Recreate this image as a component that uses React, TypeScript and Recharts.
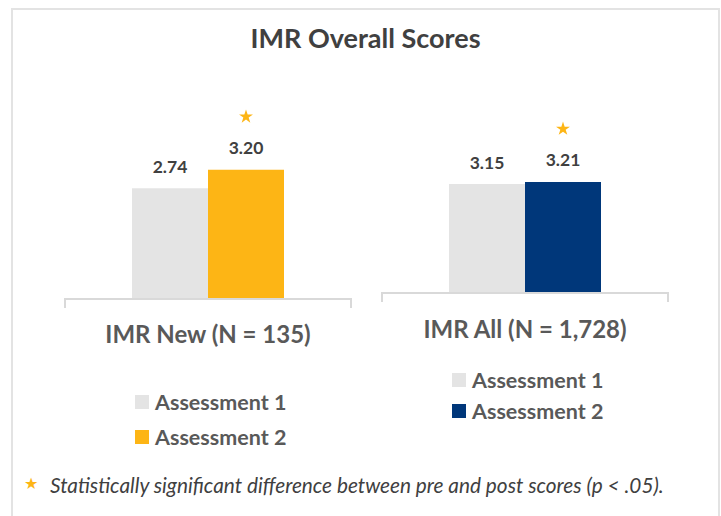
import React from 'react';
import { BarChart, Bar, XAxis, YAxis, Cell, LabelList, Symbols } from 'recharts';

const title = 'IMR Overall Scores';
const categories = ['IMR New (N = 135)', 'IMR All (N = 1,728)'];
const seriesNames = ['Assessment 1', 'Assessment 2'];
const assessment1 = [2.74, 3.15];
const assessment2 = [3.2, 3.21];
const significant = [true, true];
const footnote = 'Statistically significant difference between pre and post scores (p < .05).';

const assessment1Color = '#E4E4E4';
const assessment2Colors = ['#FDB515', '#00377A'];
const starColor = '#FDB515';
const FONT = 'Lato, "Open Sans", sans-serif';

const panels = [
  {
    left: 40, top: 80, width: 340, height: 280,
    margin: { top: 17, right: 29, left: 25, bottom: 11 },
    xHeight: 50, labelDy: 34,
    legendLeft: 135, legendTop: 389, legendGap: 35,
  },
  {
    left: 360, top: 80, width: 340, height: 280,
    margin: { top: 40, right: 32, left: 22, bottom: 11 },
    xHeight: 56, labelDy: 35,
    legendLeft: 452, legendTop: 367, legendGap: 31,
  },
];

function makeTick(fallbackHalf: number, labelDy: number) {
  return (props: any) => {
    const { x, y, payload } = props;
    const off = payload && typeof payload.offset === 'number' && payload.offset > 0 ? payload.offset : fallbackHalf;
    return (
      <g>
        <line x1={x - off} y1={y - 1} x2={x - off} y2={y + 9} stroke="#D9D9D9" strokeWidth={2} />
        <line x1={x + off} y1={y - 1} x2={x + off} y2={y + 9} stroke="#D9D9D9" strokeWidth={2} />
        <text x={x} y={y + labelDy} textAnchor="middle" dominantBaseline="central"
          fontFamily={FONT} fontWeight={700} fontSize={24} fill="#595959">
          {payload.value}
        </text>
      </g>
    );
  };
}

const valueLabel = (props: any) => {
  const { x, y, width, value } = props;
  return (
    <text x={x + width / 2} y={y - 22} textAnchor="middle" dominantBaseline="central"
      fontFamily={FONT} fontWeight={700} fontSize={17.5} fill="#404040">
      {Number(value).toFixed(2)}
    </text>
  );
};

function makeStarLabel(sig: boolean) {
  return (props: any) => {
    const { x, y, width } = props;
    if (!sig) return null;
    return <Symbols cx={x + width / 2} cy={y - 53} type="star" size={60} fill={starColor} />;
  };
}

function Panel({ i }: { i: number }) {
  const p = panels[i];
  const data = [{ name: categories[i], a1: assessment1[i], a2: assessment2[i] }];
  const plotW = p.width - p.margin.left - p.margin.right;
  return (
    <div style={{ position: 'absolute', left: p.left, top: p.top }}>
      <BarChart width={p.width} height={p.height} data={data} margin={p.margin} barGap={0} barSize={76}>
        <YAxis hide domain={[0, 5]} />
        <XAxis dataKey="name" tickLine={false} tickSize={0} tickMargin={0} height={p.xHeight}
          axisLine={{ stroke: '#D9D9D9', strokeWidth: 2 }} tick={makeTick(plotW / 2, p.labelDy)} />
        <Bar dataKey="a1" name={seriesNames[0]} fill={assessment1Color} isAnimationActive={false}>
          <LabelList dataKey="a1" content={valueLabel} />
        </Bar>
        <Bar dataKey="a2" name={seriesNames[1]} fill={assessment2Colors[i]} isAnimationActive={false}>
          <Cell fill={assessment2Colors[i]} />
          <LabelList dataKey="a2" content={valueLabel} />
          <LabelList dataKey="a2" content={makeStarLabel(significant[i])} />
        </Bar>
      </BarChart>
    </div>
  );
}

function PanelLegend({ i }: { i: number }) {
  const p = panels[i];
  const colors = [assessment1Color, assessment2Colors[i]];
  return (
    <>
      {seriesNames.map((s, k) => (
        <div key={s} style={{
          position: 'absolute', left: p.legendLeft, top: p.legendTop + k * p.legendGap,
          height: 26, display: 'flex', alignItems: 'center', whiteSpace: 'nowrap',
        }}>
          <span style={{ display: 'inline-block', width: 14, height: 14, background: colors[k], marginRight: 6 }} />
          <span style={{ fontFamily: FONT, fontWeight: 700, fontSize: 21.5, color: '#595959', lineHeight: '26px' }}>{s}</span>
        </div>
      ))}
    </>
  );
}

export default function App() {
  return (
    <div style={{ position: 'absolute', left: 0, top: 0, width: 721, height: 516, overflow: 'hidden', background: '#fff' }}>
      <div style={{ position: 'absolute', left: 11, top: 8, width: 705, height: 530, border: '2px solid #E3E3E3' }} />
      <div style={{
        position: 'absolute', left: 11, top: 22, width: 709, textAlign: 'center',
        fontFamily: FONT, fontWeight: 700, fontSize: 27, color: '#404040', lineHeight: '32px',
      }}>{title}</div>
      <Panel i={0} />
      <Panel i={1} />
      <PanelLegend i={0} />
      <PanelLegend i={1} />
      <div style={{ position: 'absolute', left: 24, top: 472, display: 'flex', alignItems: 'center', whiteSpace: 'nowrap' }}>
        <span style={{ color: starColor, fontSize: 16, fontFamily: '"DejaVu Sans", sans-serif', width: 26, marginTop: -4 }}>★</span>
        <span style={{ fontFamily: FONT, fontStyle: 'italic', fontSize: 20.8, color: '#404040', lineHeight: '26px' }}>{footnote}</span>
      </div>
    </div>
  );
}
